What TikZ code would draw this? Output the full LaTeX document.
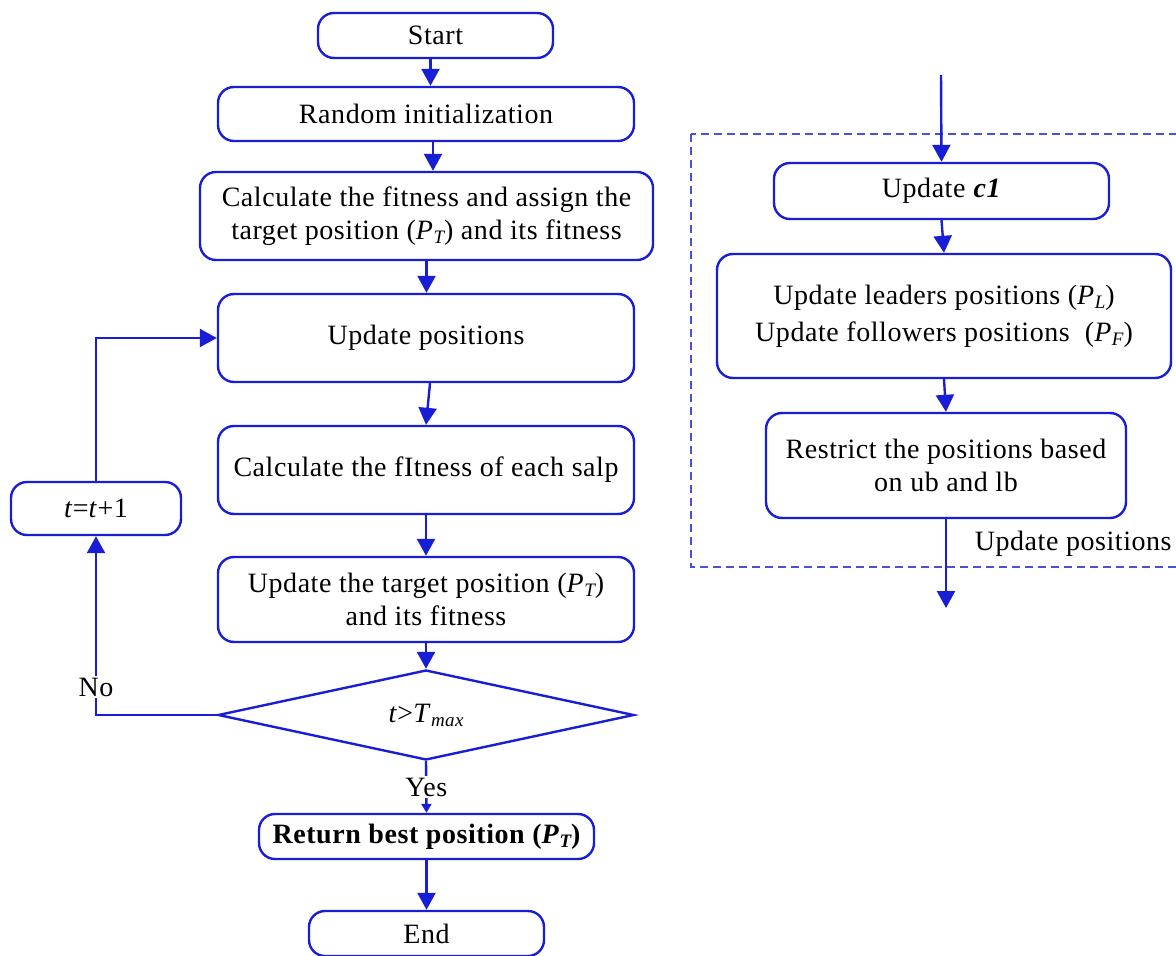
\documentclass[tikz,border=0pt]{standalone}
\usepackage{fontspec}
\setmainfont[LetterSpace=2]{Liberation Serif}
\usetikzlibrary{arrows.meta,shapes.geometric}
\definecolor{flowblue}{RGB}{24,30,214}
\definecolor{dashblue}{RGB}{70,82,215}
% italic subscript for position symbols
\newcommand\subi[1]{\raisebox{-0.3ex}{\fontsize{9.5}{10}\selectfont\itshape #1}}

\begin{document}
\begin{tikzpicture}[x=0.5pt,y=-0.5pt,
  font=\fontsize{14}{16.5}\selectfont,
  box/.style={draw=flowblue, line width=1.2pt, rounded corners=8pt,
    align=center, inner sep=0pt, fill=white},
  flow/.style={draw=flowblue, line width=1.2pt,
    -{Triangle[length=8.5pt,width=9pt]}},
  smallflow/.style={draw=flowblue, line width=1.2pt,
    -{Triangle[length=4.5pt,width=5pt]}},
  lbl/.style={fill=white, inner sep=1pt}]

\clip (0,0) rectangle (1176,956);
\useasboundingbox (0,0) rectangle (1176,956);

% main loop
\node[box, minimum width=117.5pt, minimum height=22.5pt] (start) at (435.5,35.5) {Start};
\node[box, minimum width=208pt, minimum height=27pt] (rand) at (426,114) {Random initialization};
\node[box, minimum width=226.5pt, minimum height=44pt] (calc) at (426.5,216)
  {Calculate the fitness and assign the\\target position (\textit{P}\subi{T}) and its fitness};
\node[box, minimum width=208pt, minimum height=44pt] (up) at (426,338) {Update positions};
\node[box, minimum width=208pt, minimum height=44pt] (salp) at (426,470) {Calculate the fItness of each salp};
\node[box, minimum width=208pt, minimum height=42.5pt] (tgt) at (426,599.5)
  {Update the target position (\textit{P}\subi{T})\\and its fitness};
\node[draw=flowblue, line width=1.2pt, diamond, shape aspect=4.6, inner sep=0pt,
  minimum width=208pt, minimum height=45pt] (dia) at (426,715)
  {\textit{t}>\textit{T}\subi{max}};
\node[box, minimum width=167.5pt, minimum height=22.5pt] (ret) at (426.5,836.5)
  {\bfseries Return best position (\textit{P}\subi{T})};
\node[box, minimum width=117.5pt, minimum height=22.5pt] (end) at (426.5,933.5) {End};
\node[box, minimum width=85pt, minimum height=26.5pt] (tt) at (96,508.5) {\textit{t}=\textit{t}+1};

\draw[flow] ([xshift=-2.5pt]start.south) -- ([xshift=-2.5pt]start.south |- rand.north);
\draw[flow] ([xshift=3.5pt]rand.south) -- ([xshift=3.5pt]rand.south |- calc.north);
\draw[flow] (calc.south) -- (calc.south |- up.north);
\draw[flow] ([xshift=2pt]up.south) -- (salp.north);
\draw[flow] (salp.south) -- (tgt.north);
\draw[flow] (tgt.south) -- (dia.north);
\draw[smallflow] (dia.south) -- node[lbl, pos=0.5]{Yes} (ret.north);
\draw[flow] (ret.south) -- (end.north);
\draw[flow] (dia.west) -| node[lbl, pos=0.578]{No} (tt.south);
\draw[flow] (tt.north) |- (up.west);

% position update detail
\draw[dashblue, line width=0.6pt, dash pattern=on 4pt off 2.5pt] (691,134) rectangle (1190,567);
\coordinate (in) at (941,75);
\coordinate (out) at (946,608);
\node[box, minimum width=167.5pt, minimum height=28pt] (c1) at (941.5,191) {Update \textbf{\textit{c1}}};
\node[box, minimum width=227pt, minimum height=62pt, font=\fontsize{14}{18.5}\selectfont] (lead) at (944,316)
  {Update leaders positions (\textit{P}\subi{L})\\Update followers positions\ \ (\textit{P}\subi{F})};
\node[box, minimum width=180pt, minimum height=52.5pt] (restr) at (946,465.5)
  {Restrict the positions based\\on ub and lb};
\node[anchor=east, inner sep=0pt] (uplbl) at (1172,544) {Update positions};

\draw[flow] (in) -- (c1.north);
\draw[flow] (c1.south) -- (lead.north);
\draw[flow] (lead.south) -- (restr.north);
\draw[flow] (restr.south) -- (out);
\end{tikzpicture}
\end{document}
